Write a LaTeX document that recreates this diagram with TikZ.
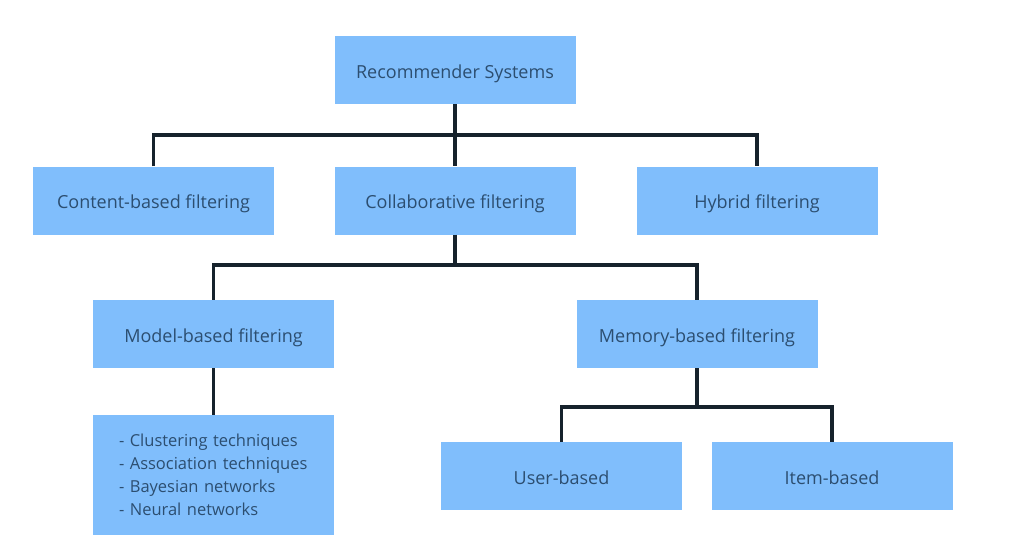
\documentclass[tikz,border=0pt]{standalone}
\usepackage{fontspec}
\setmainfont{Open Sans}
\begin{document}
\begin{tikzpicture}[x=1pt,y=-1pt]
\definecolor{boxblue}{RGB}{128,190,252}
\definecolor{txt}{RGB}{44,78,112}
\definecolor{wire}{RGB}{22,34,44}
\tikzset{
  box/.style={rectangle, fill=boxblue, inner sep=0pt, minimum width=241pt, minimum height=68pt,
    text=txt, font=\fontsize{18}{23}\selectfont, text height=16.5pt, text depth=0pt},
  wirestyle/.style={draw=wire, line width=3.5pt, line join=miter}
}
\useasboundingbox (0,0) rectangle (1009,547);
\fill[white] (0,0) rectangle (1009,547);
\node[box] (rec) at (455,70) {Recommender Systems};
\node[box] (content) at (153.5,200.5) {Content-based filtering};
\node[box] (collab) at (455,200.5) {Collaborative filtering};
\node[box] (hybrid) at (757,200.5) {Hybrid filtering};
\node[box] (model) at (213.5,334) {Model-based filtering};
\node[box] (memory) at (697,334) {Memory-based filtering};
\node[box, font=\fontsize{16.5}{23}\selectfont, text height={}, text depth={}, minimum height=120pt, text width=189pt, inner xsep=26pt, align=left] (tech) at (213.5,475)
  {- Clustering techniques\\- Association techniques\\- Bayesian networks\\- Neural networks};
\node[box] (user) at (561.5,476) {User-based};
\node[box] (item) at (832,476) {Item-based};
\coordinate (bus1) at (455,135);
\coordinate (bus2) at (455,265);
\coordinate (bus3) at (697,407);
\draw[wirestyle] (rec.south) -- (collab.north);
\draw[wirestyle] (content.north) |- (bus1) -| (hybrid.north);
\draw[wirestyle] (collab.south) -- (bus2);
\draw[wirestyle] (model.north) |- (bus2) -| (memory.north);
\draw[wirestyle] (model.south) -- (tech.north);
\draw[wirestyle] (memory.south) -- (bus3);
\draw[wirestyle] (user.north) |- (bus3) -| (item.north);
\end{tikzpicture}
\end{document}
